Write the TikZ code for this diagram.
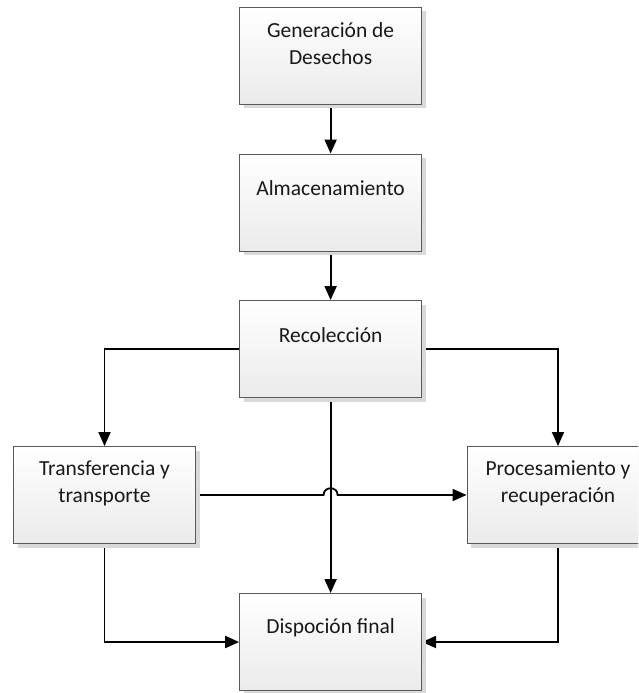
\documentclass[tikz,border=0pt]{standalone}
\usepackage{fontspec}
\setmainfont{Carlito}
\usetikzlibrary{arrows.meta,shadows,backgrounds}

\begin{document}
\begin{tikzpicture}[x=1pt,y=-1pt,
  box/.style={draw=black!65, line width=0.9pt, minimum width=182pt,
    minimum height=97pt, inner sep=0pt, top color=white, bottom color=black!8,
    general shadow={fill=black!15, shadow xshift=4pt, shadow yshift=-4pt}},
  txt/.style={align=center, text=black!90, inner sep=0pt,
    font=\fontsize{21.5}{27}\selectfont},
  link/.style={line width=1.8pt, -{Triangle[length=14pt,width=12pt]}},
]
\useasboundingbox (0,0) rectangle (638,693);
\clip (0,0) rectangle (638,693);

% process boxes
\node[box] (gen) at (330.6,55.5) {};
\node[txt] (genT) at ([yshift=-37pt]gen.north) {Generación de\\Desechos};

\node[box] (alm) at (330.6,202.5) {};
\node[txt] (almT) at ([yshift=-35pt]alm.north) {Almacenamiento};

\node[box] (rec) at (330.6,349) {};
\node[txt] (recT) at ([yshift=-35pt]rec.north) {Recolección};

\node[box] (tra) at (104.5,495) {};
\node[txt] (traT) at ([yshift=-37pt]tra.north) {Transferencia y\\transporte};

\node[box] (pro) at (558,495) {};
\node[txt] (proT) at ([yshift=-37pt]pro.north) {Procesamiento y\\recuperación};

\node[box] (fin) at (330.6,642) {};
\node[txt] (finT) at ([yshift=-35pt]fin.north) {Dispoción final};

% connectors, kept behind the boxes
\coordinate (cross) at (tra.east -| rec.south);
\begin{pgfonlayer}{background}
\draw[link] (gen.south) -- (alm.north);
\draw[link] (alm.south) -- (rec.north);
\draw[link] (rec.west) -| (tra.north);
\draw[link] (rec.east) -| (pro.north);
\draw[link] (rec.south) -- (fin.north);
\draw[link] (tra.east) -- ([xshift=-7pt]cross)
  .. controls ([xshift=-7pt,yshift=9pt]cross) and ([xshift=7pt,yshift=9pt]cross)
  .. ([xshift=7pt]cross) -- (pro.west);
\draw[link] (tra.south) |- (fin.west);
\draw[link] (pro.south) |- (fin.east);
\end{pgfonlayer}
\end{tikzpicture}
\end{document}
